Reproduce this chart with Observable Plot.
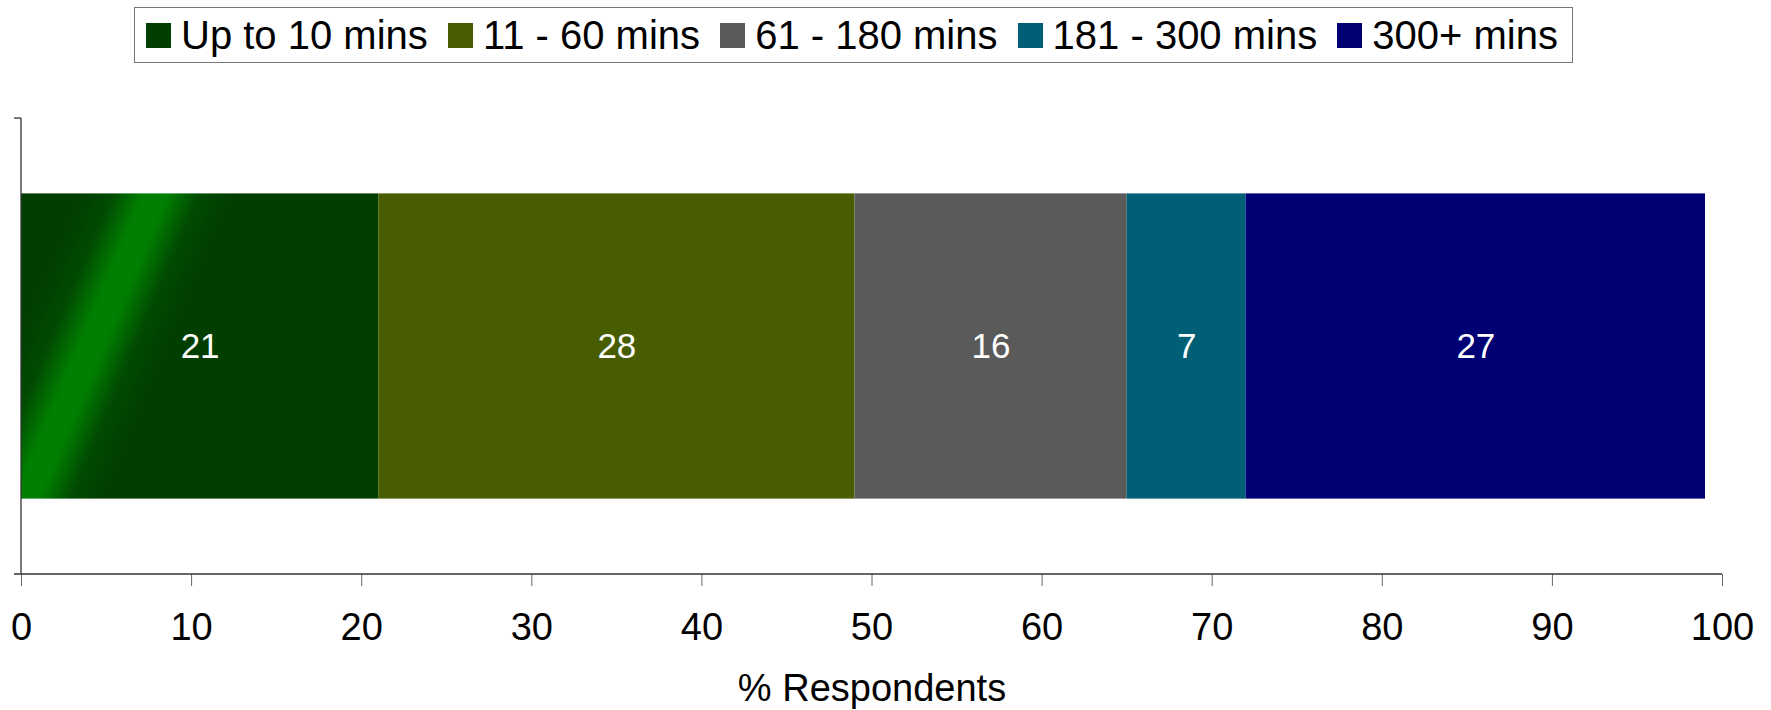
<!DOCTYPE html>
<html>
<head>
<meta charset="utf-8">
<script src="https://cdn.jsdelivr.net/npm/d3@7"></script>
<script src="https://cdn.jsdelivr.net/npm/@observablehq/plot@0.6"></script>
<style>
  html, body { margin: 0; padding: 0; background: #fff; }
  body { width: 1771px; font-family: "Liberation Sans", Arial, sans-serif; }
  #legend-wrap { position: relative; height: 70px; }
  #legend {
    position: absolute; left: 134px; top: 7px; width: 1439px; height: 56px;
    box-sizing: border-box; border: 1.5px solid #777;
    display: flex; align-items: center; justify-content: space-between;
    padding: 0 14px 0 11px;
  }
  .item { display: flex; align-items: center; font-size: 40px; color: #000; white-space: nowrap; }
  .sw { width: 25px; height: 25px; margin-right: 10px; flex: none; }
</style>
</head>
<body>
<div id="legend-wrap"><div id="legend"></div></div>
<div id="chart"></div>
<script>
// Time spent, share of respondents per duration band (one stacked bar)
const row = "Respondents";
const series = ["Up to 10 mins", "11 - 60 mins", "61 - 180 mins", "181 - 300 mins", "300+ mins"];
const values = [21, 28, 16, 7, 27];
const colors = ["#003f00", "#475d00", "#5a5a5a", "#005e75", "#000074"];
const xTicks = [0, 10, 20, 30, 40, 50, 60, 70, 80, 90, 100];
const xLabel = "% Respondents";

const data = series.map((s, i) => ({row, series: s, value: values[i]}));

// Legend
const legend = document.getElementById("legend");
series.forEach((s, i) => {
  const item = document.createElement("div");
  item.className = "item";
  const sw = document.createElement("span");
  sw.className = "sw";
  sw.style.background = colors[i];
  item.appendChild(sw);
  item.appendChild(document.createTextNode(s));
  legend.appendChild(item);
});

// Axis lines drawn at the frame edges, with the short outward ticks of the category axis
function axisLines(index, scales, values, dims) {
  const {width, height, marginLeft, marginRight, marginTop, marginBottom} = dims;
  const g = d3.create("svg:g").attr("stroke", "#333").attr("stroke-width", 1.3).attr("fill", "none");
  const yb = height - marginBottom;
  g.append("line").attr("x1", marginLeft).attr("x2", marginLeft).attr("y1", marginTop).attr("y2", yb);
  g.append("line").attr("x1", marginLeft - 7).attr("x2", width - marginRight).attr("y1", yb).attr("y2", yb);
  g.append("line").attr("x1", marginLeft - 7).attr("x2", marginLeft).attr("y1", marginTop).attr("y2", marginTop);
  return g.node();
}

const plot = Plot.plot({
  width: 1771,
  height: 640,
  marginLeft: 21,
  marginRight: 49,
  marginTop: 48,
  marginBottom: 136,
  style: {fontFamily: "'Liberation Sans', Arial, sans-serif", fontSize: "38px", color: "#000", background: "#fff"},
  x: {domain: [0, 100]},
  y: {domain: [row], paddingInner: 0, paddingOuter: 0.247, round: false, axis: null},
  color: {domain: series, range: colors},
  marks: [
    Plot.barX(data, Plot.stackX({x: "value", y: "row", fill: "series", order: null})),
    Plot.text(data, Plot.stackX({x: "value", y: "row", z: "series", text: d => String(d.value), fill: "white", fontSize: 35, order: null})),
    Plot.axisX({ticks: xTicks, tickSize: 12, tickPadding: 27, fontSize: 38, stroke: "#666", fill: "#000",
                label: xLabel, labelAnchor: "center", labelOffset: 126, labelArrow: "none"}),
    axisLines
  ]
});
document.getElementById("chart").appendChild(plot);

// Diagonal highlight gradient on the first segment
const svg = d3.select(plot);
const firstRect = svg.select('g[aria-label="bar"] rect');
if (!firstRect.empty()) {
  const x0 = +firstRect.attr("x"), y0 = +firstRect.attr("y");
  const h = +firstRect.attr("height");
  const topC = [x0 + 135, y0], botC = [x0 + 6, y0 + h];
  const dx = botC[0] - topC[0], dy = botC[1] - topC[1];
  const len = Math.hypot(dx, dy);
  const n = [dy / len, -dx / len];
  const half = 68;
  const defs = svg.insert("defs", ":first-child");
  const grad = defs.append("linearGradient").attr("id", "upTo10Fill")
    .attr("gradientUnits", "userSpaceOnUse")
    .attr("x1", topC[0] - half * n[0]).attr("y1", topC[1] - half * n[1])
    .attr("x2", topC[0] + half * n[0]).attr("y2", topC[1] + half * n[1]);
  [[0, "#003f00"], [0.2, "#014a01"], [0.42, "#007f00"], [0.58, "#007f00"], [0.8, "#014a01"], [1, "#003f00"]].forEach(([o, c]) =>
    grad.append("stop").attr("offset", o).attr("stop-color", c));
  firstRect.attr("fill", "url(#upTo10Fill)");
}
</script>
</body>
</html>
